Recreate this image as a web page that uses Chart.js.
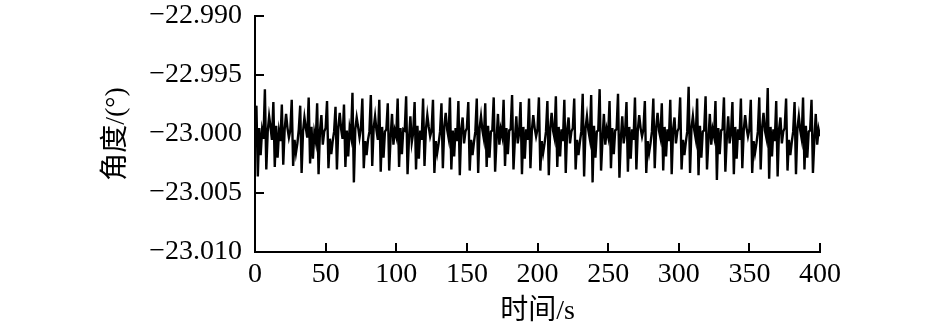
<!DOCTYPE html>
<html lang="zh">
<head>
  <meta charset="UTF-8" />
  <title>角度随时间变化</title>
  <script src="https://cdn.jsdelivr.net/npm/chart.js"></script>
  <style>
    body { margin: 0; background: #fff; }
    #wrap { width: 945px; height: 328px; }
  </style>
</head>
<body>
  <div id="wrap"><canvas id="angleChart" width="945" height="328"></canvas></div>

  <script>
    // sampled once per second, t = 0 .. 400 s
    const sampleStart = 0;
    const sampleStep = 1;
    const angleValues = [
      -23.0000, -22.9976, -23.0036, -22.9995, -23.0018, -22.9997,
      -23.0004, -22.9962, -23.0030, -22.9998, -22.9985, -22.9994,
      -23.0005, -22.9973, -23.0028, -22.9993, -23.0020, -22.9998,
      -23.0006, -22.9975, -23.0026, -22.9996, -22.9983, -22.9995, -23.0003,
      -22.9997, -22.9971, -23.0027, -23.0005, -23.0016, -23.0008,
      -22.9996, -22.9976, -23.0033, -22.9998, -22.9986, -22.9995,
      -23.0003, -22.9969, -23.0025, -22.9994, -23.0021, -22.9999,
      -23.0006, -22.9974, -23.0034, -22.9997, -22.9984, -23.0009, -22.9998,
      -22.9995, -22.9972, -23.0029, -23.0004, -23.0017, -23.0006,
      -22.9998, -22.9977, -23.0030, -22.9994, -22.9982, -22.9996,
      -23.0004, -22.9975, -23.0028, -22.9997, -23.0019, -22.9995,
      -23.0002, -22.9965, -23.0041, -22.9996, -22.9986, -22.9994, -23.0003,
      -22.9995, -22.9970, -23.0029, -23.0006, -23.0018, -23.0005,
      -22.9998, -22.9967, -23.0027, -22.9995, -22.9985, -22.9997,
      -23.0005, -22.9971, -23.0032, -22.9994, -23.0020, -22.9998,
      -22.9996, -22.9974, -23.0031, -23.0003, -22.9983, -23.0009, -22.9997,
      -23.0002, -22.9970, -23.0028, -22.9995, -23.0017, -22.9996,
      -22.9997, -22.9968, -23.0034, -23.0004, -22.9985, -23.0007,
      -22.9999, -22.9973, -23.0030, -22.9993, -23.0021, -22.9997,
      -23.0005, -22.9970, -23.0027, -22.9996, -22.9984, -22.9994, -23.0002,
      -22.9997, -22.9971, -23.0033, -23.0006, -23.0016, -23.0008,
      -22.9998, -22.9974, -23.0029, -22.9994, -22.9982, -22.9996,
      -23.0003, -22.9969, -23.0030, -22.9997, -23.0019, -22.9995,
      -23.0006, -22.9972, -23.0035, -22.9996, -22.9986, -23.0008, -22.9998,
      -22.9995, -22.9973, -23.0031, -23.0005, -23.0018, -23.0007,
      -22.9998, -22.9970, -23.0033, -22.9995, -22.9985, -22.9997,
      -23.0004, -22.9974, -23.0028, -22.9993, -23.0020, -22.9998,
      -22.9997, -22.9969, -23.0032, -23.0005, -22.9983, -23.0009, -22.9996,
      -23.0002, -22.9971, -23.0027, -22.9995, -23.0017, -22.9997,
      -22.9996, -22.9967, -23.0030, -23.0004, -22.9985, -23.0008,
      -22.9999, -22.9973, -23.0034, -22.9994, -23.0021, -22.9996,
      -23.0005, -22.9970, -23.0029, -22.9997, -22.9984, -22.9995, -23.0002,
      -22.9996, -22.9969, -23.0031, -23.0006, -23.0016, -23.0008,
      -22.9998, -22.9972, -23.0035, -22.9995, -22.9982, -22.9997,
      -23.0003, -22.9968, -23.0028, -22.9994, -23.0019, -22.9996,
      -23.0006, -22.9971, -23.0033, -22.9996, -22.9986, -23.0008, -22.9998,
      -22.9995, -22.9970, -23.0030, -23.0005, -23.0018, -23.0007,
      -22.9998, -22.9966, -23.0036, -22.9995, -22.9985, -22.9997,
      -23.0004, -22.9967, -23.0041, -22.9993, -23.0020, -22.9998,
      -22.9997, -22.9962, -23.0031, -23.0005, -22.9983, -23.0009, -22.9996,
      -23.0002, -22.9972, -23.0029, -22.9995, -23.0017, -22.9997,
      -22.9996, -22.9966, -23.0037, -23.0004, -22.9985, -23.0008,
      -22.9999, -22.9973, -23.0032, -22.9994, -23.0021, -22.9996,
      -23.0005, -22.9969, -23.0030, -22.9997, -22.9984, -22.9995, -23.0002,
      -22.9996, -22.9972, -23.0033, -23.0006, -23.0016, -23.0008,
      -22.9998, -22.9970, -23.0029, -22.9995, -22.9982, -22.9997,
      -23.0003, -22.9974, -23.0031, -22.9994, -23.0019, -22.9996,
      -23.0006, -22.9971, -23.0034, -22.9996, -22.9986, -23.0008, -22.9998,
      -22.9995, -22.9969, -23.0030, -23.0005, -23.0018, -23.0007,
      -22.9998, -22.9960, -23.0033, -22.9995, -22.9985, -22.9997,
      -23.0004, -22.9970, -23.0035, -22.9993, -23.0020, -22.9998,
      -22.9997, -22.9968, -23.0030, -23.0005, -22.9983, -23.0009, -22.9996,
      -23.0002, -22.9972, -23.0039, -22.9995, -23.0017, -22.9997,
      -22.9996, -22.9969, -23.0032, -23.0004, -22.9985, -23.0008,
      -22.9999, -22.9973, -23.0034, -22.9994, -23.0021, -22.9996,
      -23.0005, -22.9970, -23.0029, -22.9997, -22.9984, -22.9995, -23.0002,
      -22.9996, -22.9971, -23.0033, -23.0006, -23.0016, -23.0008,
      -22.9998, -22.9969, -23.0030, -22.9995, -22.9982, -22.9997,
      -23.0003, -22.9961, -23.0038, -22.9994, -23.0019, -22.9996,
      -23.0006, -22.9972, -23.0036, -22.9996, -22.9986, -23.0008, -22.9998,
      -22.9995, -22.9970, -23.0031, -23.0005, -23.0018, -23.0007,
      -22.9998, -22.9973, -23.0034, -22.9995, -22.9985, -22.9997,
      -23.0004, -22.9969, -23.0030, -22.9993, -23.0020, -22.9998,
      -22.9997, -22.9971, -23.0033, -23.0005, -22.9983, -23.0009, -22.9996,
      -23.0002
    ];

    const xMin = 0, xMax = 400, xStep = 50;
    const yMin = -23.010, yMax = -22.990, yStep = 0.005;
    const xTitle = "时间/s";
    const yTitle = "角度/(°)";

    const points = angleValues.map((v, i) => ({ x: sampleStart + i * sampleStep, y: v }));

    const font = { family: "'Liberation Serif', 'Noto Sans CJK SC', serif", size: 28 };

    // ticks point into the plot area
    const innerTicks = {
      id: "innerTicks",
      afterDraw(chart) {
        const { ctx, chartArea, scales } = chart;
        ctx.save();
        ctx.strokeStyle = "#000";
        ctx.lineWidth = 2;
        ctx.beginPath();
        scales.x.ticks.forEach(t => {
          const px = Math.round(scales.x.getPixelForValue(t.value));
          ctx.moveTo(px, chartArea.bottom);
          ctx.lineTo(px, chartArea.bottom - 9);
        });
        scales.y.ticks.forEach(t => {
          const py = Math.round(scales.y.getPixelForValue(t.value));
          ctx.moveTo(chartArea.left, py);
          ctx.lineTo(chartArea.left + 9, py);
        });
        ctx.stroke();
        ctx.restore();
      }
    };

    new Chart(document.getElementById("angleChart"), {
      type: "line",
      data: {
        datasets: [{
          data: points,
          borderColor: "#000",
          borderWidth: 2.4,
          pointRadius: 0,
          tension: 0,
          fill: false
        }]
      },
      options: {
        responsive: false,
        animation: false,
        events: [],
        layout: { padding: { top: 16, right: 125, left: 0, bottom: 0 } },
        plugins: { legend: { display: false }, tooltip: { enabled: false } },
        scales: {
          x: {
            type: "linear",
            min: xMin, max: xMax,
            grid: { display: false, drawTicks: false },
            border: { display: true, color: "#000", width: 2 },
            ticks: { stepSize: xStep, color: "#000", font: font, padding: 6, maxRotation: 0 },
            title: { display: true, text: xTitle, color: "#000", font: font, padding: { top: 0, bottom: 0 } },
            afterFit(scale) { scale.height = 76; }
          },
          y: {
            min: yMin, max: yMax,
            grid: { display: false, drawTicks: false },
            border: { display: true, color: "#000", width: 2 },
            ticks: {
              stepSize: yStep, color: "#000", font: font, padding: 13,
              callback: v => v.toFixed(3).replace("-", "\u2212")
            },
            title: { display: true, text: yTitle, color: "#000", font: font, padding: { top: 100, bottom: 0 } },
            afterFit(scale) {
              scale.width = 255;
              scale.paddingTop = 0;
              scale.paddingBottom = 0;
            }
          }
        }
      },
      plugins: [innerTicks]
    });
  </script>
</body>
</html>
